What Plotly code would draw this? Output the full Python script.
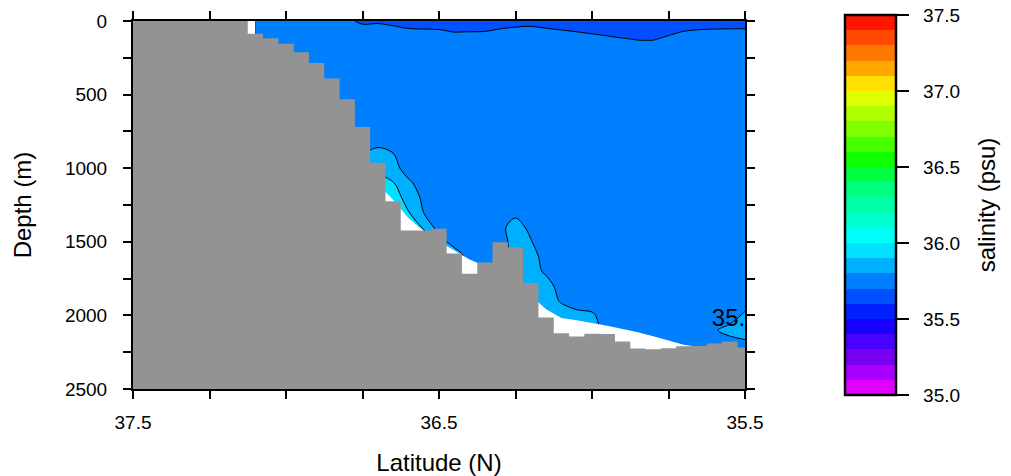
import plotly.graph_objects as go

# ---------------- data ----------------
W = 35.75  # main (background) salinity of the water column

lat_stations = [37.10, 37.05, 37.00, 36.95, 36.90, 36.85, 36.80, 36.75, 36.70, 36.65,
                36.60, 36.55, 36.50, 36.45, 36.40, 36.35, 36.30, 36.25, 36.20, 36.15,
                36.10, 36.05, 36.00, 35.95, 35.90, 35.85, 35.80, 35.75, 35.70, 35.65,
                35.60, 35.55, 35.50]

depth_levels = [0, 25, 50, 75, 100, 125, 150, 200, 300, 400, 500, 600, 700,
                800, 900, 1000, 1100, 1200, 1300, 1400, 1500, 1600, 1700, 1800,
                1900, 2000, 2100, 2200, 2300, 2400, 2500]

# salinity profile at each station (one value per depth level)
sal_profiles = [
    # 37.10
    [W, W, W, W, W, W, W,  W, W, W, W, W, W,  W, W, W, W, W, W, W, W, W, W, W, W, W, W, W, W, W, W],
    # 37.05
    [W, W, W, W, W, W, W,  W, W, W, W, W, W,  W, W, W, W, W, W, W, W, W, W, W, W, W, W, W, W, W, W],
    # 37.00
    [W, W, W, W, W, W, W,  W, W, W, W, W, W,  W, W, W, W, W, W, W, W, W, W, W, W, W, W, W, W, W, W],
    # 36.95
    [W, W, W, W, W, W, W,  W, W, W, W, W, W,  W, W, W, W, W, W, W, W, W, W, W, W, W, W, W, W, W, W],
    # 36.90
    [W, W, W, W, W, W, W,  W, W, W, W, W, W,  W, W, W, W, W, W, W, W, W, W, W, W, W, W, W, W, W, W],
    # 36.85
    [W, W, W, W, W, W, W,  W, W, W, W, W, W,  W, W, W, W, W, W, W, W, W, W, W, W, W, W, W, W, W, W],
    # 36.80
    [W, W, W, W, W, W, W,  W, W, W, W, W, W,  W, W, W, W, W, W, W, W, W, W, W, W, W, W, W, W, W, W],
    # 36.75
    [35.65, 35.707, W, W, W, W, W,  W, W, W, W, W, W,
     W, 35.79, 35.79, 35.79, 35.79, 35.79, 35.79, 35.79, 35.79, 35.79, 35.79, 35.79, 35.79, 35.79, 35.79, 35.79, 35.79, 35.79],
    # 36.70
    [35.65, 35.724, W, W, W, W, W,  W, W, W, W, W, W,
     W, 35.833, 35.87, 35.93, 35.95, 35.95, 35.95, 35.95, 35.95, 35.95, 35.95, 35.95, 35.95, 35.95, 35.95, 35.95, 35.95, 35.95],
    # 36.65
    [35.65, 35.681, W, W, W, W, W,  W, W, W, W, W, W,
     W, 35.801, 35.84, 35.905, 35.95, 35.95, 35.95, 35.95, 35.95, 35.95, 35.95, 35.95, 35.95, 35.95, 35.95, 35.95, 35.95, 35.95],
    # 36.60
    [35.65, 35.65, 35.698, W, W, W, W,  W, W, W, W, W, W,
     W, W, W, 35.82, 35.86, 35.905, 35.95, 35.95, 35.95, 35.95, 35.95, 35.95, 35.95, 35.95, 35.95, 35.95, 35.95, 35.95],
    # 36.55
    [35.65, 35.65, 35.688, W, W, W, W,  W, W, W, W, W, W,
     W, W, W, W, 35.78, 35.798, 35.89, 35.95, 35.95, 35.95, 35.95, 35.95, 35.95, 35.95, 35.95, 35.95, 35.95, 35.95],
    # 36.50
    [35.65, 35.65, 35.676, W, W, W, W,  W, W, W, W, W, W,
     W, W, W, W, W, W, W, 35.85, 35.85, 35.85, 35.85, 35.85, 35.85, 35.85, 35.85, 35.85, 35.85, 35.85],
    # 36.45
    [35.65, 35.65, 35.65, 35.698, W, W, W,  W, W, W, W, W, W,
     W, W, W, W, W, W, W, W, 35.88, 35.88, 35.88, 35.88, 35.88, 35.88, 35.88, 35.88, 35.88, 35.88],
    # 36.40
    [35.65, 35.65, 35.65, 35.704, W, W, W,  W, W, W, W, W, W,
     W, W, W, W, W, W, W, W, W, W, W, W, W, W, W, W, W, W],
    # 36.35
    [35.65, 35.65, 35.65, 35.71, W, W, W,  W, W, W, W, W, W,
     W, W, W, W, W, W, W, W, W, W, W, W, W, W, W, W, W, W],
    # 36.30
    [35.65, 35.65, 35.693, W, W, W, W,  W, W, W, W, W, W,
     W, W, W, W, W, W, W, W, W, 35.85, 35.85, 35.85, 35.85, 35.85, 35.85, 35.85, 35.85, 35.85],
    # 36.25
    [35.65, 35.65, 35.724, W, W, W, W,  W, W, W, W, W, W,
     W, W, W, W, W, W, 35.88, 35.85, 35.85, 35.85, 35.85, 35.85, 35.85, 35.85, 35.85, 35.85, 35.85, 35.85],
    # 36.20
    [35.65, 35.661, W, W, W, W, W,  W, W, W, W, W, W,
     W, W, W, W, W, W, W, 35.807, 35.85, 35.85, 35.85, 35.85, 35.85, 35.85, 35.85, 35.85, 35.85, 35.85],
    # 36.15
    [35.65, 35.65, 35.701, W, W, W, W,  W, W, W, W, W, W,
     W, W, W, W, W, W, W, W, W, 35.78, 35.85, 35.85, 35.85, 35.85, 35.85, 35.85, 35.85, 35.85],
    # 36.10
    [35.65, 35.65, 35.661, W, W, W, W,  W, W, W, W, W, W,
     W, W, W, W, W, W, W, W, W, W, W, 35.789, 35.85, 35.85, 35.85, 35.85, 35.85, 35.85],
    # 36.05
    [35.65, 35.65, 35.65, 35.704, W, W, W,  W, W, W, W, W, W,
     W, W, W, W, W, W, W, W, W, W, W, W, 35.832, 35.85, 35.85, 35.85, 35.85, 35.85],
    # 36.00
    [35.65, 35.65, 35.65, 35.654, W, W, W,  W, W, W, W, W, W,
     W, W, W, W, W, W, W, W, W, W, W, W, 35.815, 35.85, 35.85, 35.85, 35.85, 35.85],
    # 35.95
    [35.65, 35.65, 35.65, 35.65, 35.696, W, W,  W, W, W, W, W, W,
     W, W, W, W, W, W, W, W, W, W, W, W, W, W, W, W, W, W],
    # 35.90
    [35.65, 35.65, 35.65, 35.65, 35.65, 35.728, W,  W, W, W, W, W, W,
     W, W, W, W, W, W, W, W, W, W, W, W, W, W, W, W, W, W],
    # 35.85
    [35.65, 35.65, 35.65, 35.65, 35.65, 35.688, W,  W, W, W, W, W, W,
     W, W, W, W, W, W, W, W, W, W, W, W, W, W, W, W, W, W],
    # 35.80
    [35.65, 35.65, 35.65, 35.65, 35.65, 35.688, W,  W, W, W, W, W, W,
     W, W, W, W, W, W, W, W, W, W, W, W, W, W, W, W, W, W],
    # 35.75
    [35.65, 35.65, 35.65, 35.65, 35.702, W, W,  W, W, W, W, W, W,
     W, W, W, W, W, W, W, W, W, W, W, W, W, W, W, W, W, W],
    # 35.70
    [35.65, 35.65, 35.65, 35.713, W, W, W,  W, W, W, W, W, W,
     W, W, W, W, W, W, W, W, W, W, W, W, W, W, W, W, W, W],
    # 35.65
    [35.65, 35.65, 35.672, W, W, W, W,  W, W, W, W, W, W,
     W, W, W, W, W, W, W, W, W, W, W, W, W, W, W, W, W, W],
    # 35.60
    [35.65, 35.65, 35.688, W, W, W, W,  W, W, W, W, W, W,
     W, W, W, W, W, W, W, W, W, W, W, W, W, 35.79, W, W, W, W],
    # 35.55
    [35.65, 35.65, 35.693, W, W, W, W,  W, W, W, W, W, W,
     W, W, W, W, W, W, W, W, W, W, W, W, W, 35.833, W, W, W, W],
    # 35.50
    [35.65, 35.65, 35.693, W, W, W, W,  W, W, W, W, W, W,
     W, W, W, W, W, W, W, W, W, W, W, W, 35.819, 35.89, W, W, W, W],
]
assert len(sal_profiles) == len(lat_stations)
for p in sal_profiles:
    assert len(p) == len(depth_levels), len(p)

# deepest valid data at each station (below it: no data, white)
data_bottom = [105, 140, 185, 255, 345, 460, 650, 850, 1105, 1215,
               1339, 1426, 1497, 1560, 1621, 1664, 1700, 1750, 1864, 1959,
               2018, 2033, 2049, 2070, 2092, 2114, 2142, 2171, 2199, 2215,
               2240, 2240, 2260]

# bathymetry (cell-centred)
bathy_lat = [37.50, 37.45, 37.40, 37.35, 37.30, 37.25, 37.20, 37.15, 37.10, 37.05,
             37.00, 36.95, 36.90, 36.85, 36.80, 36.75, 36.70, 36.65, 36.60, 36.55,
             36.50, 36.45, 36.40, 36.35, 36.30, 36.25, 36.20, 36.15, 36.10, 36.05,
             36.00, 35.95, 35.90, 35.85, 35.80, 35.75, 35.70, 35.65, 35.60, 35.55,
             35.50]
bathy_depth = [0, 0, 0, 0, 0, 0, 0, 0, 87, 117,
               155, 213, 286, 391, 531, 720, 963, 1224, 1424, 1424,
               1412, 1580, 1717, 1640, 1503, 1537, 1780, 2014, 2121, 2143,
               2125, 2127, 2178, 2225, 2230, 2223, 2210, 2208, 2191, 2178,
               2218]

# colour bins 35.0-35.1, 35.1-35.2, ... 37.4-37.5
bin_colors = ["#E000FF", "#A800FF", "#7800F0", "#4800FF", "#1800FF",
              "#0020FF", "#0050FF", "#0080FF", "#00B0FF", "#00E0FF",
              "#00FFF8", "#00FFD0", "#00FFA8", "#00FF80", "#00FF40",
              "#10FF00", "#48FF00", "#80FF00", "#B0FF00", "#E0FF00",
              "#FFE000", "#FFA800", "#FF7800", "#FF4800", "#FF1500"]

cbar_ticks = [35.0, 35.5, 36.0, 36.5, 37.0, 37.5]
x_ticks = [37.5, 37.25, 37.0, 36.75, 36.5, 36.25, 36.0, 35.75, 35.5]
x_ticklabels = ["37.5", "", "", "", "36.5", "", "", "", "35.5"]
y_ticks = [0, 250, 500, 750, 1000, 1250, 1500, 1750, 2000, 2250, 2500]
y_ticklabels = ["0", "", "500", "", "1000", "", "1500", "", "2000", "", "2500"]

label_text = "35.8"
label_lat = 35.532
label_depth = 2030

GRAY = "#939393"
FONT = "Liberation Sans, Arial, Helvetica, sans-serif"
depth_max = 2500
NB = "\u00a0"

# ---------------- figure ----------------
nb = len(bin_colors)
colorscale = []
for i, c in enumerate(bin_colors):
    colorscale.append([i / nb, c])
    colorscale.append([(i + 1) / nb, c])

z = [[prof[j] for prof in sal_profiles] for j in range(len(depth_levels))]

fig = go.Figure()

fig.add_trace(go.Contour(
    x=lat_stations, y=depth_levels, z=z,
    zmin=35.0, zmax=37.5, autocontour=False,
    contours=dict(start=35.0, end=37.5, size=0.1, coloring="fill", showlines=False),
    colorscale=colorscale, line=dict(width=0),
    hoverinfo="skip",
    colorbar=dict(
        thickness=51, thicknessmode="pixels",
        len=380, lenmode="pixels",
        x=1.1634, xanchor="left", xpad=0,
        y=0.5, yanchor="middle", ypad=0,
        outlinewidth=2.5, outlinecolor="black",
        tickvals=cbar_ticks,
        ticktext=[NB * 2 + f"{v:.1f}" + NB * 2 for v in cbar_ticks],
        ticks="outside", ticklen=12, tickwidth=1.5, tickcolor="black",
        tickfont=dict(size=19, color="black", family=FONT),
        title=dict(text="salinity (psu)", side="right",
                   font=dict(size=24, color="black", family=FONT)),
    ),
))

fig.add_trace(go.Contour(
    x=lat_stations, y=depth_levels, z=z, autocontour=False,
    contours=dict(start=35.7, end=35.9, size=0.1, coloring="none"),
    line=dict(color="black", width=1), showscale=False, hoverinfo="skip",
))

fig.add_trace(go.Scatter(
    x=lat_stations + [lat_stations[-1], lat_stations[0]],
    y=data_bottom + [depth_max, depth_max],
    fill="toself", fillcolor="white", mode="lines",
    line=dict(width=0, color="white"), hoverinfo="skip", showlegend=False,
))

fig.add_trace(go.Scatter(
    x=bathy_lat + [bathy_lat[-1], bathy_lat[0]],
    y=bathy_depth + [depth_max, depth_max],
    fill="toself", fillcolor=GRAY, mode="lines",
    line=dict(width=0, color=GRAY, shape="hvh"), hoverinfo="skip", showlegend=False,
))

fig.add_trace(go.Scatter(
    x=[label_lat], y=[label_depth], mode="text", text=[label_text],
    textposition="middle center", cliponaxis=True,
    textfont=dict(size=24, color="black", family=FONT),
    hoverinfo="skip", showlegend=False,
))

axis_common = dict(
    ticks="outside", ticklen=8, tickwidth=1.5, tickcolor="black",
    showline=True, linewidth=2, linecolor="black", mirror="ticks",
    showgrid=False, zeroline=False, automargin=False,
    tickfont=dict(size=19, color="black", family=FONT),
)

fig.update_layout(
    width=1011, height=476,
    margin=dict(l=133, r=266, t=21, b=87, autoexpand=False),
    paper_bgcolor="white", plot_bgcolor="white",
    showlegend=False,
    font=dict(family=FONT, color="black"),
    xaxis=dict(range=[37.5, 35.5], tickmode="array", tickvals=x_ticks, ticktext=x_ticklabels,
               ticklabelstandoff=7,
               title=dict(text="Latitude (N)", font=dict(size=24), standoff=22),
               **axis_common),
    yaxis=dict(range=[depth_max, 0], tickmode="array", tickvals=y_ticks, ticktext=y_ticklabels,
               ticklabelstandoff=12,
               title=dict(text="Depth (m)", font=dict(size=24), standoff=27),
               **axis_common),
)

fig.write_html("out.html")
